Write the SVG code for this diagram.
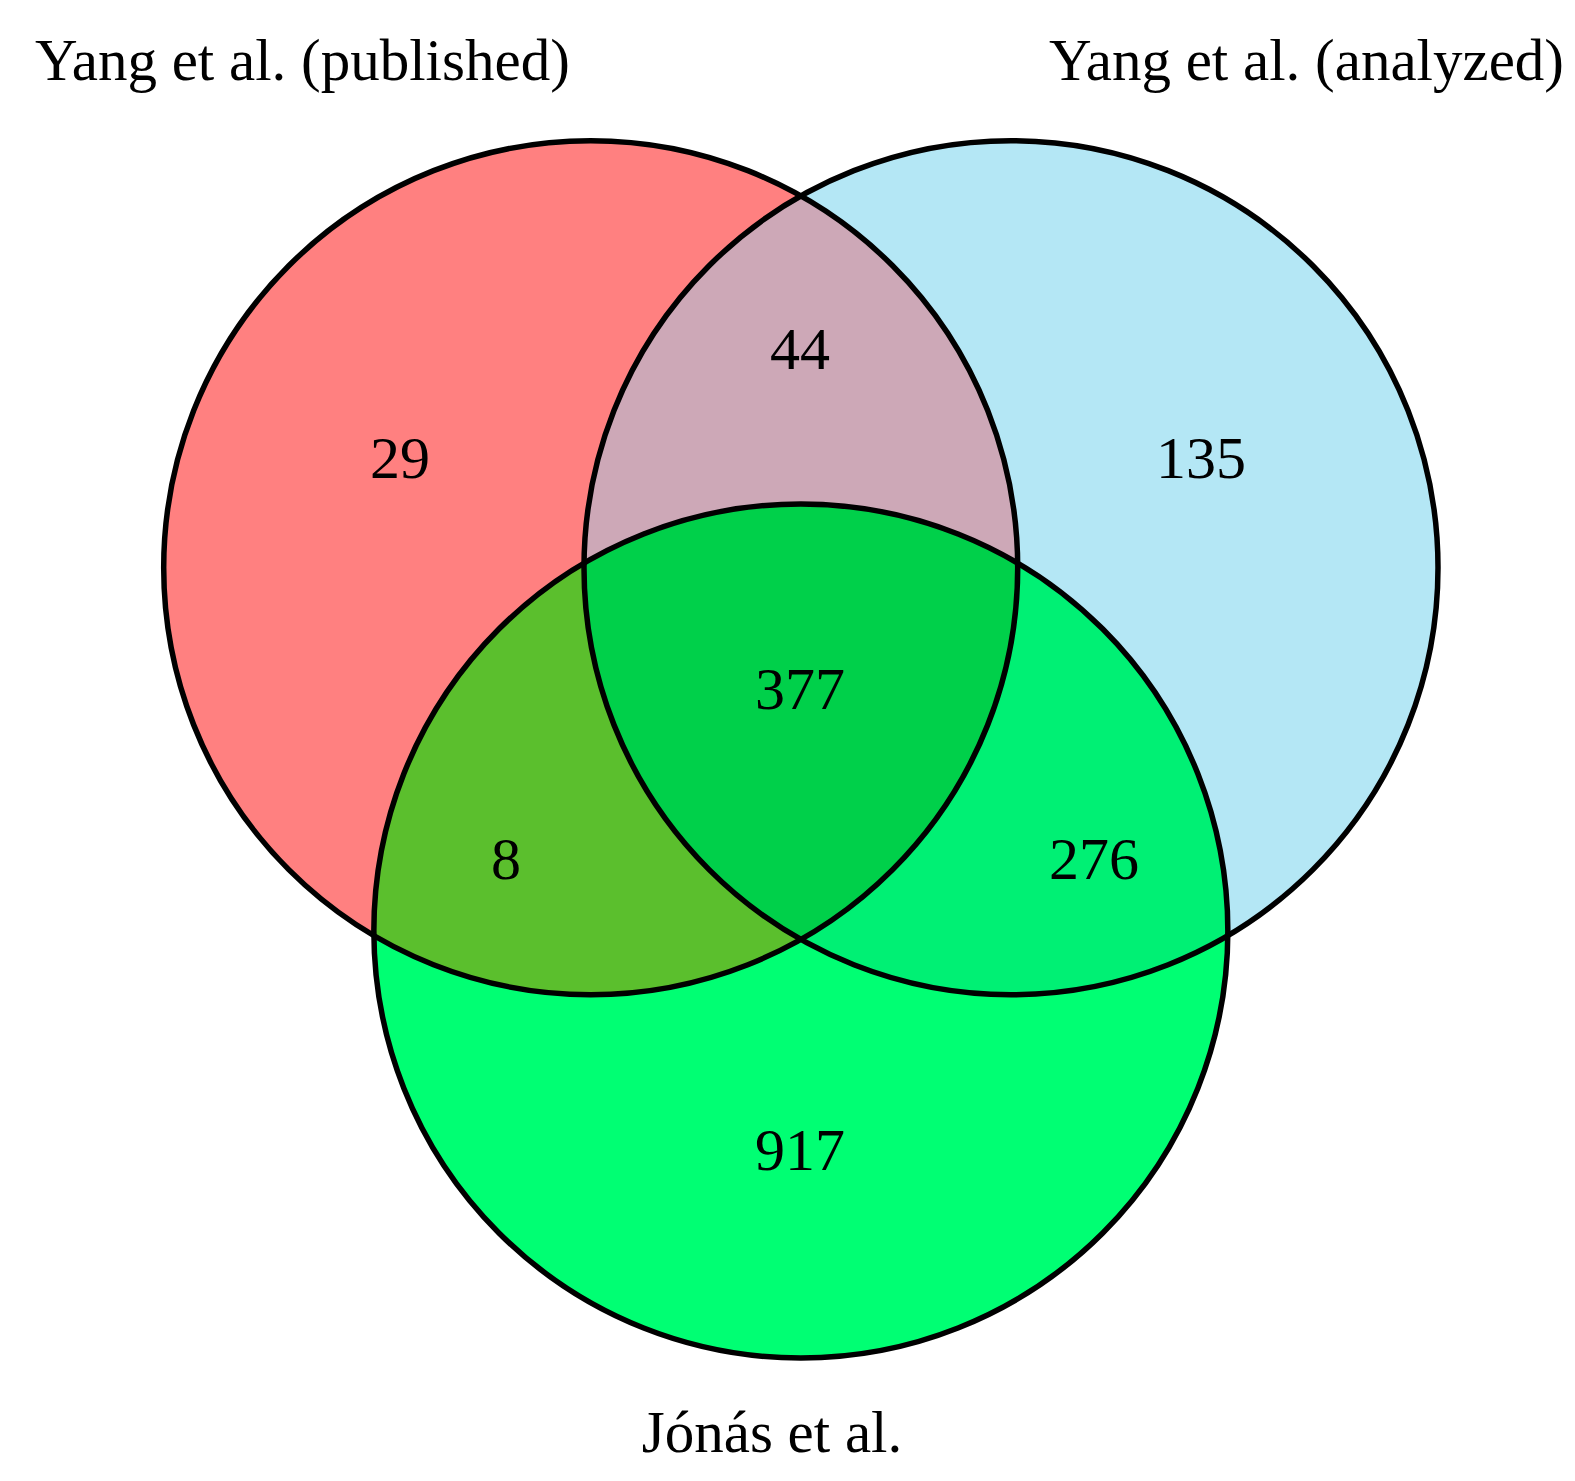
<svg xmlns="http://www.w3.org/2000/svg" width="1575" height="1481" viewBox="0 0 1575 1481">
  <style>
    .lbl { font-family: "Liberation Serif", "Times New Roman", serif; font-size: 59px; fill: #000; }
    .num { font-family: "Liberation Serif", "Times New Roman", serif; font-size: 60px; fill: #000; text-anchor: middle; }
    .outline { fill: none; stroke: #000; stroke-width: 5.5; }
  </style>
  <defs>
    <clipPath id="clipA"><circle cx="590.7" cy="567.7" r="427"/></clipPath>
    <clipPath id="clipB"><circle cx="1011" cy="567.7" r="427"/></clipPath>
    <clipPath id="clipC"><circle cx="800.85" cy="931" r="427"/></clipPath>
  </defs>
  <rect width="1575" height="1481" fill="#ffffff"/>

  <g id="node-published">
    <circle cx="590.7" cy="567.7" r="427" fill="#FF8080"/>
  </g>
  <g id="node-analyzed">
    <circle cx="1011" cy="567.7" r="427" fill="#B4E7F5"/>
  </g>
  <g id="node-jonas">
    <circle cx="800.85" cy="931" r="427" fill="#00FF73"/>
  </g>

  <g id="overlaps">
    <circle cx="1011" cy="567.7" r="427" fill="#CDA8B7" clip-path="url(#clipA)"/>
    <circle cx="800.85" cy="931" r="427" fill="#5BBF2D" clip-path="url(#clipA)"/>
    <circle cx="800.85" cy="931" r="427" fill="#00F074" clip-path="url(#clipB)"/>
    <g clip-path="url(#clipA)">
      <circle cx="800.85" cy="931" r="427" fill="#00D04A" clip-path="url(#clipB)"/>
    </g>
  </g>

  <g id="connectors">
    <circle class="outline" cx="590.7" cy="567.7" r="427"/>
    <circle class="outline" cx="1011" cy="567.7" r="427"/>
    <circle class="outline" cx="800.85" cy="931" r="427"/>
  </g>

  <g id="labels">
    <text class="lbl" x="35" y="80">Yang et al. (published)</text>
    <text class="lbl" x="1564" y="80" text-anchor="end">Yang et al. (analyzed)</text>
    <text class="lbl" x="772" y="1452" text-anchor="middle">Jónás et al.</text>
  </g>

  <g id="counts">
    <text class="num" x="400" y="478">29</text>
    <text class="num" x="800" y="369">44</text>
    <text class="num" x="1201" y="478">135</text>
    <text class="num" x="800" y="709">377</text>
    <text class="num" x="506" y="879">8</text>
    <text class="num" x="1094" y="879">276</text>
    <text class="num" x="800" y="1170">917</text>
  </g>
</svg>
